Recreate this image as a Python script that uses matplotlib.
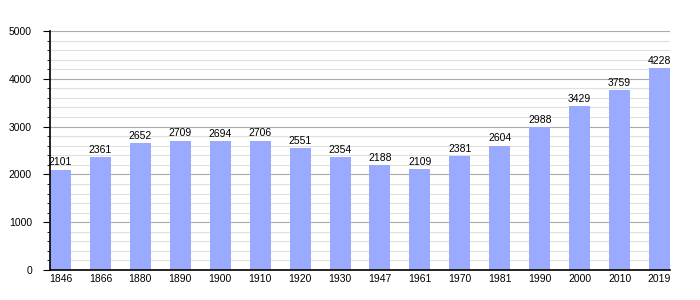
import matplotlib.pyplot as plt
import numpy as np

years = ["1846", "1866", "1880", "1890", "1900", "1910", "1920", "1930",
         "1947", "1961", "1970", "1981", "1990", "2000", "2010", "2019"]
population = [2101, 2361, 2652, 2709, 2694, 2706, 2551, 2354,
              2188, 2109, 2381, 2604, 2988, 3429, 3759, 4228]

plt.rcParams['font.family'] = ['Liberation Sans', 'DejaVu Sans']

fig = plt.figure(figsize=(7, 3), dpi=100)
ax = fig.add_axes([50 / 700, 30 / 300, 620 / 700, 239 / 300])

width = 0.525
x = np.arange(len(years))
ax.bar(x, population, width=width, align='edge', color='#99aaff', zorder=2)

for xi, v in zip(x, population):
    ax.text(xi + width / 2, v + 50, str(v), ha='center', va='bottom',
            fontsize=7.5, zorder=3)

ax.set_xlim(0, len(years) - 1 + width)
ax.set_ylim(0, 5000)
ax.set_xticks(x + width / 2)
ax.set_xticklabels(years, fontsize=7.5)
ax.tick_params(axis='x', length=0, pad=3)

ax.set_yticks(np.arange(0, 5001, 1000))
ax.set_yticks(np.arange(0, 5001, 200), minor=True)
ax.tick_params(axis='y', which='major', length=5, labelsize=7.5, pad=8)
ax.tick_params(axis='y', which='minor', length=2.5)
ax.grid(axis='y', which='major', color='#aaaaaa', linewidth=0.8, zorder=0)
ax.grid(axis='y', which='minor', color='#e0e0e0', linewidth=0.8, zorder=0)

for s in ['top', 'right']:
    ax.spines[s].set_visible(False)
ax.spines['left'].set_linewidth(1.2)
ax.spines['bottom'].set_linewidth(1.2)

fig.savefig("out.png", dpi=100)
